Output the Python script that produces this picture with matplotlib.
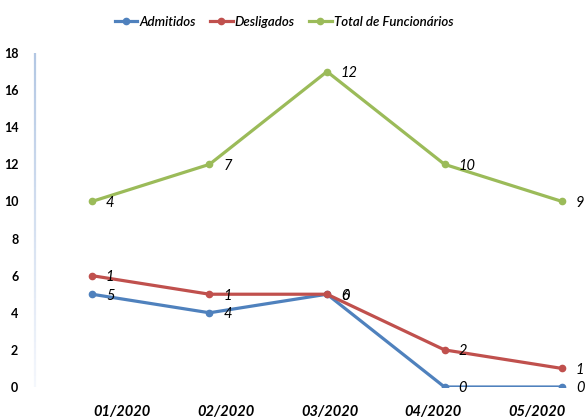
import matplotlib
matplotlib.use("Agg")
import matplotlib.pyplot as plt
from matplotlib.collections import LineCollection
import numpy as np

categories = ["01/2020", "02/2020", "03/2020", "04/2020", "05/2020"]
admitidos = [5, 4, 5, 0, 0]
desligados = [6, 5, 5, 2, 1]
total = [10, 12, 17, 12, 10]
admitidos_labels = ["5", "4", "6", "0", "0"]
desligados_labels = ["1", "1", "0", "2", "1"]
total_labels = ["4", "7", "12", "10", "9"]
yticks = [0, 2, 4, 6, 8, 10, 12, 14, 16, 18]

plt.rcParams['font.family'] = ['Lato', 'DejaVu Sans']

fig = plt.figure(figsize=(5.87, 4.19), dpi=100)
ax = fig.add_axes([35/587, 1-387/419, 584/587, 334/419])

series = [
    ("Admitidos", admitidos, admitidos_labels, "#4F81BD"),
    ("Desligados", desligados, desligados_labels, "#C0504D"),
    ("Total de Funcionários", total, total_labels, "#9BBB59"),
]
x = np.arange(len(categories))
for name, vals, labs, col in series:
    ax.plot(x, vals, color=col, lw=2.3, marker="o", ms=4.5, label=name,
            solid_joinstyle="round")
    for xi, v, lab in zip(x, vals, labs):
        ax.annotate(lab, (xi, v), xytext=(10, -1), textcoords="offset points",
                    ha="left", va="center", fontsize=10.5, style="italic",
                    color="black")

ax.set_xlim(-0.485, 4.485)
ax.set_ylim(0, 18)
ax.set_xticks([])
for s in ["top", "right", "bottom", "left"]:
    ax.spines[s].set_visible(False)

# gradient left axis line
n = 60
ys = np.linspace(0, 1, n + 1)
segs = [[(0, ys[i]), (0, ys[i + 1])] for i in range(n)]
c_top = np.array([0.70, 0.78, 0.89])
c_bot = np.array([0.96, 0.97, 0.99])
cols = [tuple(c_bot + (c_top - c_bot) * (ys[i] + ys[i + 1]) / 2) for i in range(n)]
lc = LineCollection(segs, colors=cols, linewidths=1.6, transform=ax.transAxes,
                    clip_on=False)
ax.add_collection(lc)

# category labels (placed as in the reference, on their own axis)
ax2 = ax.twiny()
ax2.set_xlim(-0.8386, 4.79)
ax2.set_xticks(np.arange(len(categories)))
ax2.set_xticklabels(categories, fontsize=10.5, fontweight="bold", style="italic")
ax2.xaxis.set_ticks_position("bottom")
ax2.xaxis.set_label_position("bottom")
ax2.tick_params(axis="x", length=0, pad=13)
ax2.tick_params(axis="y", left=False, right=False, labelleft=False, labelright=False)
for s in ["top", "right", "bottom", "left"]:
    ax2.spines[s].set_visible(False)

ax.set_yticks(yticks)
ax.set_yticklabels([str(t) for t in yticks], fontsize=9, fontweight="bold")
ax.tick_params(axis="y", length=0, pad=12, left=False, labelleft=True)

fig.legend(*ax.get_legend_handles_labels(), loc="center",
           bbox_to_anchor=(284/587, 1-22/419), ncol=3,
           frameon=False, handlelength=1.7, columnspacing=1.1,
           handletextpad=0.15, prop={"size": 9.5, "style": "italic",
                                      "weight": "semibold"})

fig.savefig("out.png", dpi=100)
